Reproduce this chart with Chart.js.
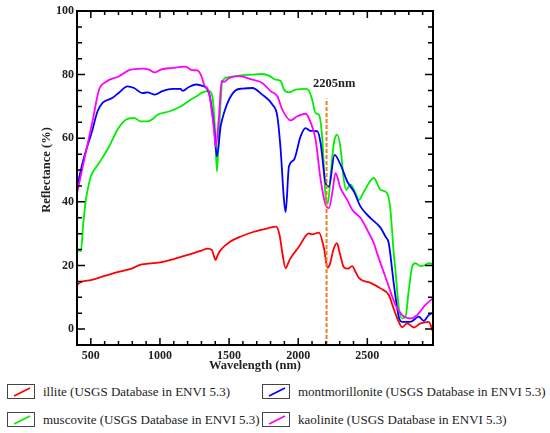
<!DOCTYPE html>
<html lang="en">
<head>
<meta charset="UTF-8">
<title>Reflectance spectra</title>
<script src="https://cdn.jsdelivr.net/npm/chart.js"></script>
<style>
  body { margin: 0; background: #fff; }
  #wrap { position: relative; width: 550px; height: 433px; font-family: 'Liberation Serif', serif; }
  #spectra { position: absolute; left: 0; top: 0; }
  .key { position: absolute; font-size: 13px; color: #222; white-space: nowrap; }
  .key .box { position: absolute; left: 0; top: 0; width: 28px; height: 15px; border: 1px solid #444; box-sizing: border-box; }
  .key .txt { position: absolute; left: 36px; top: -1px; line-height: 17px; }
</style>
</head>
<body>
<div id="wrap">
  <canvas id="spectra" width="550" height="372"></canvas>
</div>
<script>
// axis ticks
const xTicks = [500, 1000, 1500, 2000, 2500];
const yTicks = [0, 20, 40, 60, 80, 100];

// illite
const illiteNm = [400, 430, 500, 600, 700, 800, 860, 900, 1000, 1100, 1200, 1300, 1345, 1375, 1390, 1403, 1415, 1440,
  1510, 1585, 1680, 1780, 1840, 1865, 1885, 1909, 1930, 1945, 2005, 2077, 2100, 2150, 2186, 2212, 2230, 2255, 2280,
  2300, 2330, 2360, 2390, 2415, 2440, 2520, 2595, 2655, 2690, 2720, 2752, 2788, 2836, 2884, 2944, 2975];
const illiteR = [13.9, 14.8, 15.4, 16.7, 18.0, 19.1, 20.3, 20.5, 21.0, 22.0, 23.3, 24.7, 25.3, 24.9, 23.0, 21.7, 23.0, 24.9,
  27.5, 29.1, 30.6, 31.7, 32.2, 29.6, 24.0, 19.1, 21.0, 22.3, 25.9, 30.1, 29.8, 30.3, 25.5, 19.3, 20.5, 25.0, 27.0,
  24.0, 19.5, 19.0, 19.8, 18.0, 16.0, 14.6, 12.8, 10.7, 6.5, 3.0, 0.6, 1.8, 0.5, 1.8, 2.3, -0.8];

// muscovite
const muscoviteNm = [400, 428, 445, 464, 488, 500, 560, 632, 693, 753, 813, 861, 910, 946, 982, 1066, 1150, 1222, 1282,
  1307, 1355, 1379, 1398, 1412, 1427, 1451, 1499, 1571, 1668, 1740, 1788, 1837, 1873, 1897, 1933, 1981, 2053, 2077,
  2101, 2126, 2150, 2174, 2198, 2215, 2234, 2258, 2282, 2306, 2330, 2348, 2378, 2415, 2439, 2475, 2547, 2595, 2643,
  2667, 2691, 2703, 2727, 2752, 2776, 2800, 2824, 2848, 2884, 2920, 2944, 2975];
const muscoviteR = [24.9, 24.5, 33.0, 40.6, 46.0, 48.0, 52.2, 57.4, 62.7, 65.8, 66.4, 65.3, 65.3, 66.0, 67.4, 68.4, 70.0, 72.1, 73.7,
  74.4, 74.8, 73.2, 62.7, 49.5, 61.6, 77.9, 79.2, 79.7, 80.0, 80.2, 79.7, 78.4, 78.0, 75.3, 74.4, 75.3, 75.5, 75.0,
  72.1, 67.9, 67.4, 60.0, 42.0, 39.6, 48.0, 58.5, 61.1, 56.9, 46.9, 43.8, 45.4, 42.7, 40.6, 43.2, 47.5, 43.8, 42.7,
  37.5, 23.8, 18.6, 7.0, 3.4, 3.9, 12.3, 19.6, 20.7, 19.8, 20.2, 20.7, 20.5];

// montmorillonite
const montNm = [400, 440, 512, 548, 585, 657, 705, 765, 813, 873, 910, 962, 1018, 1090, 1150, 1162, 1210, 1259, 1295,
  1355, 1391, 1412, 1439, 1463, 1499, 1548, 1596, 1668, 1740, 1813, 1849, 1873, 1897, 1909, 1933, 1969, 2017, 2053,
  2090, 2138, 2162, 2198, 2222, 2263, 2306, 2355, 2403, 2451, 2523, 2595, 2631, 2655, 2691, 2727, 2752, 2812, 2872,
  2908, 2944, 2975];
const montR = [44.5, 52.2, 62.7, 68.4, 71.1, 72.7, 74.4, 76.3, 75.8, 74.2, 74.4, 73.7, 74.8, 75.5, 75.5, 74.9, 76.1, 76.9, 76.6,
  74.2, 63.7, 54.3, 63.7, 67.9, 72.1, 75.1, 75.6, 75.8, 73.7, 70.6, 66.9, 56.4, 40.6, 36.8, 51.1, 53.2, 60.6, 63.2,
  62.3, 62.2, 58.5, 45.9, 44.8, 54.8, 51.7, 46.4, 43.2, 38.5, 34.9, 31.9, 29.1, 27.0, 14.4, 3.9, 2.3, 2.3, 3.9,
  2.6, 4.4, 5.1];

// kaolinite
const kaolNm = [400, 452, 512, 560, 608, 705, 777, 873, 921, 962, 1006, 1090, 1186, 1234, 1271, 1300, 1319, 1355, 1391,
  1403, 1427, 1446, 1463, 1499, 1571, 1668, 1740, 1800, 1849, 1885, 1945, 1993, 2053, 2090, 2126, 2162, 2198, 2222,
  2246, 2270, 2306, 2355, 2391, 2451, 2499, 2547, 2571, 2643, 2703, 2752, 2812, 2860, 2920, 2975];
const kaolR = [42.7, 53.2, 65.3, 75.3, 77.7, 79.5, 81.4, 81.9, 81.6, 80.7, 81.6, 82.1, 82.5, 81.4, 81.3, 79.5, 76.9, 74.2, 62.7,
  57.4, 66.9, 78.0, 77.7, 78.9, 79.5, 78.4, 77.4, 74.8, 73.2, 69.0, 65.6, 66.9, 67.7, 65.0, 59.5, 47.0, 39.1, 38.0,
  42.7, 49.0, 44.3, 40.6, 37.5, 34.9, 31.2, 27.0, 23.8, 14.9, 7.6, 4.4, 3.4, 4.4, 7.6, 9.7];

// 2205 nm marker
const markerNm = 2205;
const markerTop = 72.5;
const markerText = '2205nm';
const markerLabelAt = [2260, 77.2];

const seriesNames = [
  'illite (USGS Database in ENVI 5.3)',
  'montmorillonite (USGS Database in ENVI 5.3)',
  'muscovite (USGS Database in ENVI 5.3)',
  'kaolinite (USGS Database in ENVI 5.3)'
];
const seriesColors = ['#ff0000', '#0000ff', '#00ee00', '#ff00ff'];

const pts = (xs, ys) => xs.map((x, i) => ({ x: x, y: ys[i] }));
const fontFam = "'Liberation Serif', serif";
const ink = '#222';
Chart.defaults.font.family = fontFam;

function curve(name, color, data) {
  return {
    label: name,
    data: data,
    borderColor: color,
    borderWidth: 1.8,
    pointRadius: 0,
    fill: false,
    cubicInterpolationMode: 'monotone'
  };
}

// inward ticks on all four sides, frame, axis title and the marker label
const frameTicks = {
  id: 'frameTicks',
  afterDatasetsDraw(chart) {
    const { ctx, chartArea: a, scales: { x, y } } = chart;
    ctx.save();
    ctx.strokeStyle = '#000';
    ctx.lineWidth = 1.5;
    ctx.beginPath();
    for (let v = 500; v <= 2900; v += 100) {
      const px = x.getPixelForValue(v);
      const len = v % 500 === 0 ? 7 : 4;
      ctx.moveTo(px, a.bottom); ctx.lineTo(px, a.bottom - len);
      ctx.moveTo(px, a.top); ctx.lineTo(px, a.top + len);
    }
    for (let v = 0; v < 100; v += 5) {
      const py = y.getPixelForValue(v);
      const len = v % 20 === 0 ? 8 : 5;
      ctx.moveTo(a.left, py); ctx.lineTo(a.left + len, py);
      ctx.moveTo(a.right, py); ctx.lineTo(a.right - len, py);
    }
    ctx.stroke();
    ctx.lineWidth = 2;
    ctx.strokeRect(a.left, a.top, a.right - a.left, a.bottom - a.top);
    ctx.fillStyle = ink;
    ctx.font = 'bold 12.5px ' + fontFam;
    ctx.textAlign = 'center';
    ctx.textBaseline = 'middle';
    ctx.fillText(markerText, x.getPixelForValue(markerLabelAt[0]), y.getPixelForValue(markerLabelAt[1]));
    // y title sits a little above the middle in the original
    ctx.translate(47, (a.top + a.bottom) / 2 - 8);
    ctx.rotate(-Math.PI / 2);
    ctx.fillText('Reflectance (%)', 0, 0);
    ctx.restore();
  }
};

new Chart(document.getElementById('spectra'), {
  type: 'line',
  data: {
    datasets: [
      {
        label: 'marker',
        data: [{ x: markerNm, y: -5 }, { x: markerNm, y: markerTop }],
        borderColor: '#f47b20',
        borderWidth: 2,
        borderDash: [4, 2],
        pointRadius: 0
      },
      curve(seriesNames[3], seriesColors[3], pts(kaolNm, kaolR)),
      curve(seriesNames[1], seriesColors[1], pts(montNm, montR)),
      curve(seriesNames[2], seriesColors[2], pts(muscoviteNm, muscoviteR)),
      curve(seriesNames[0], seriesColors[0], pts(illiteNm, illiteR))
    ]
  },
  options: {
    responsive: false,
    animation: false,
    layout: { padding: { left: 0, top: 11, right: 117, bottom: 0 } },
    plugins: { legend: { display: false }, tooltip: { enabled: false } },
    scales: {
      x: {
        type: 'linear',
        min: 400,
        max: 2975,
        afterBuildTicks: s => { s.ticks = xTicks.map(v => ({ value: v })); },
        afterFit: s => { s.height = 27; },
        grid: { display: false, drawTicks: false },
        border: { display: false },
        ticks: { color: ink, padding: 4, maxRotation: 0, autoSkip: false, callback: v => String(v),
          font: { family: fontFam, size: 12, weight: 'bold' } },
        title: { display: true, text: 'Wavelength (nm)', color: ink, padding: { top: 0, bottom: 0 },
          font: { family: fontFam, size: 12.5, weight: 'bold', lineHeight: 1 } }
      },
      y: {
        min: -5,
        max: 100,
        afterBuildTicks: s => { s.ticks = yTicks.map(v => ({ value: v })); },
        afterFit: s => { s.width = 77; },
        grid: { display: false, drawTicks: false },
        border: { display: false },
        ticks: { color: ink, padding: 3, callback: v => String(v),
          font: { family: fontFam, size: 12, weight: 'bold' } },
        title: { display: false }
      }
    }
  },
  plugins: [frameTicks]
});

// legend boxes below the plot
const keyPos = [[7, 384], [262, 384], [7, 412], [262, 412]];
const wrap = document.getElementById('wrap');
seriesNames.forEach((name, i) => {
  const el = document.createElement('div');
  el.className = 'key';
  el.style.left = keyPos[i][0] + 'px';
  el.style.top = keyPos[i][1] + 'px';
  el.innerHTML = '<div class="box"><svg width="26" height="13" style="position:absolute;left:0;top:0">' +
    '<line x1="6" y1="11" x2="22" y2="3" stroke="' + seriesColors[i] + '" stroke-width="1.8"/></svg></div>' +
    '<div class="txt">' + name + '</div>';
  wrap.appendChild(el);
});
</script>
</body>
</html>
